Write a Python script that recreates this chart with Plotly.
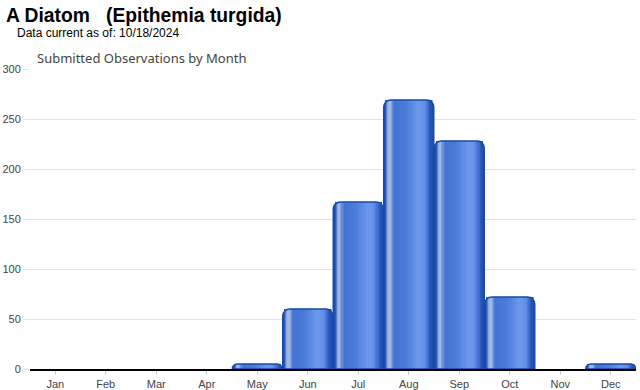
import plotly.graph_objects as go

months = ["Jan", "Feb", "Mar", "Apr", "May", "Jun", "Jul", "Aug", "Sep", "Oct", "Nov", "Dec"]
observations = [0, 0, 0, 0, 5, 60, 167, 269, 228, 72, 0, 5]
y_ticks = [0, 50, 100, 150, 200, 250, 300]

title_text = "A Diatom\u00a0\u00a0\u00a0(Epithemia turgida)"
subtitle_text = "Data current as of: 10/18/2024"
chart_title = "Submitted Observations by Month"

# gradient styling across each bar: (position fraction, colour)
BAR_W = 0.99
grad_stops = [
    (0.00, "#1c4db0"), (0.05, "#2c5dbd"), (0.09, "#86a4dc"), (0.13, "#abc1e8"),
    (0.17, "#7a9ada"), (0.22, "#4474d2"), (0.45, "#4a7cda"), (0.70, "#6c99ec"),
    (0.82, "#6490e8"), (0.90, "#3d6bcc"), (0.96, "#1f50b4"), (1.00, "#1c4db0"),
]


def hex2rgb(h):
    return tuple(int(h[i:i + 2], 16) for i in (1, 3, 5))


def color_at(p):
    for (p0, c0), (p1, c1) in zip(grad_stops[:-1], grad_stops[1:]):
        if p0 <= p <= p1:
            t = (p - p0) / (p1 - p0) if p1 > p0 else 0
            a, b = hex2rgb(c0), hex2rgb(c1)
            return "rgb(%d,%d,%d)" % tuple(round(a[i] + (b[i] - a[i]) * t) for i in range(3))
    return grad_stops[-1][1]


N_STRIPES = 40
s0, s1 = 0.035, 0.965
step = (s1 - s0) / N_STRIPES

vals = [v if v > 0 else None for v in observations]

fig = go.Figure()
fig.add_trace(go.Bar(x=months, y=vals, width=BAR_W, offset=-BAR_W / 2,
                     marker=dict(color="#1c4db0", cornerradius=7, line=dict(width=0)),
                     hoverinfo="skip", showlegend=False))
for i in range(N_STRIPES):
    a = s0 + i * step
    fig.add_trace(go.Bar(x=months, y=vals, width=BAR_W * step * 1.4,
                         offset=-BAR_W / 2 + BAR_W * a,
                         marker=dict(color=color_at(a + step / 2), line=dict(width=0)),
                         hoverinfo="skip", showlegend=False))
fig.add_trace(go.Bar(x=months, y=vals, width=BAR_W, offset=-BAR_W / 2,
                     marker=dict(color="rgba(0,0,0,0)", cornerradius=7,
                                 line=dict(width=1.5, color="#1a4aa8")),
                     hoverinfo="skip", showlegend=False))

L, R, T, B = 30, 4, 69, 21
W, H = 640, 390
pw, ph = W - L - R, H - T - B


def px_x(x):
    return (x - L) / pw


def px_y(y):
    return (H - B - y) / ph


fig.update_layout(
    width=W, height=H,
    margin=dict(l=L, r=R, t=T, b=B),
    paper_bgcolor="white", plot_bgcolor="white",
    barmode="overlay",
    font=dict(family="Arial, Liberation Sans, sans-serif", color="#444", size=11),
    xaxis=dict(categoryorder="array", categoryarray=months,
               showline=True, linecolor="black", linewidth=2,
               ticks="outside", ticklen=4, tickcolor="#cccccc",
               showgrid=False, tickfont=dict(size=11, color="#444"),
               range=[-0.5, 11.5], automargin=False),
    yaxis=dict(range=[0, 300], tickvals=y_ticks, showgrid=True,
               gridcolor="#e4e4e4", zeroline=False, showline=False,
               ticks="outside", ticklen=6, tickcolor="#e4e4e4",
               tickfont=dict(size=11, color="#444"), automargin=False),
    annotations=[
        dict(text="<b>" + title_text + "</b>", xref="paper", yref="paper",
             x=px_x(4), y=px_y(15), xanchor="left", yanchor="middle",
             showarrow=False, font=dict(size=19.3, color="black",
                                        family="Arial, Liberation Sans, sans-serif")),
        dict(text=subtitle_text, xref="paper", yref="paper",
             x=px_x(15), y=px_y(33.5), xanchor="left", yanchor="middle",
             showarrow=False, font=dict(size=12, color="black",
                                        family="Arial, Liberation Sans, sans-serif")),
        dict(text=chart_title, xref="paper", yref="paper",
             x=px_x(35), y=px_y(57.5), xanchor="left", yanchor="middle",
             showarrow=False, font=dict(size=13, color="#444", family="Noto Sans")),
    ],
)

fig.write_html("out.html", config={"displayModeBar": False},
               post_script="document.body.style.margin='0';document.body.style.overflow='hidden';")
